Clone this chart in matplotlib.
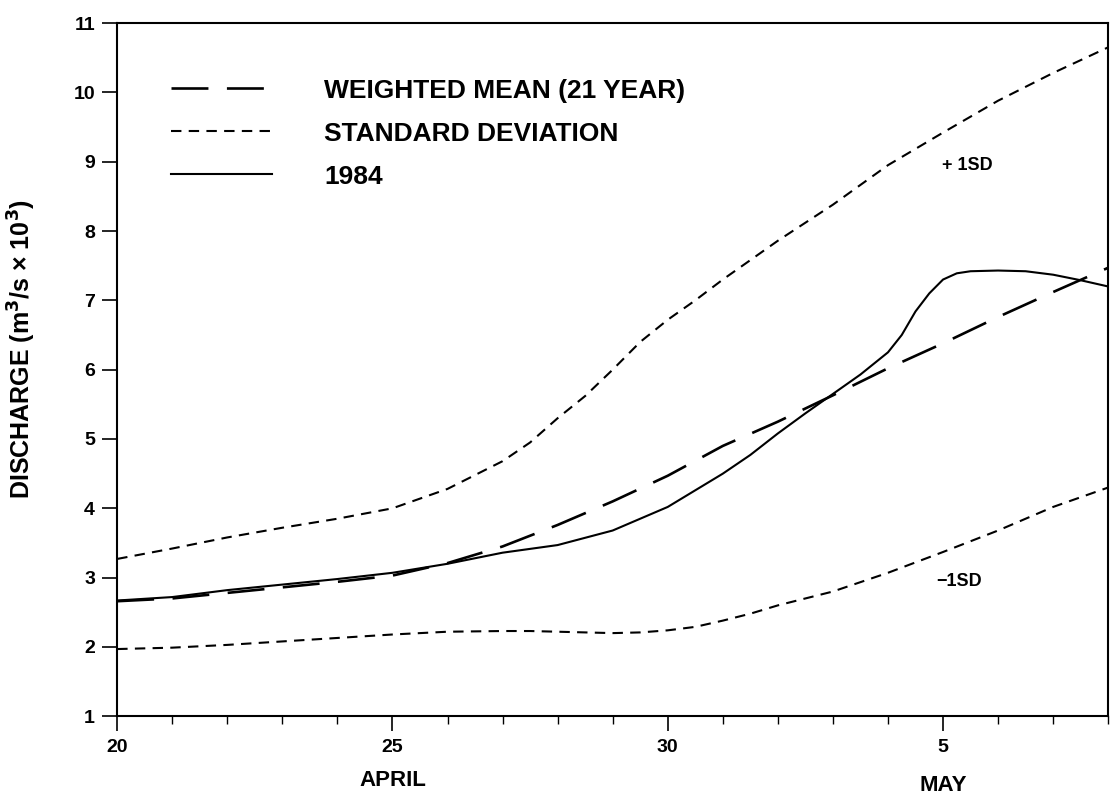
import matplotlib
matplotlib.use("Agg")
import matplotlib.pyplot as plt

plt.rcParams["font.family"] = ["Liberation Sans", "DejaVu Sans"]
plt.rcParams["font.weight"] = "bold"
plt.rcParams["axes.labelweight"] = "bold"
plt.rcParams["mathtext.default"] = "bf"

# days after 20 April; discharge in m3/s x 10^3
mean_days = list(range(19))
mean_q = [2.66, 2.70, 2.78, 2.86, 2.94, 3.03, 3.21, 3.45, 3.76, 4.10,
          4.47, 4.90, 5.25, 5.63, 6.02, 6.38, 6.76, 7.12, 7.47]

sd_days = [0, 1, 2, 3, 4, 5, 6, 7, 7.5, 8, 8.5, 9, 9.5, 10, 10.5, 11, 11.5,
           12, 13, 14, 15, 16, 17, 18]
sd_upper = [3.27, 3.42, 3.58, 3.72, 3.85, 4.00, 4.28, 4.68, 4.95, 5.30,
            5.62, 6.00, 6.40, 6.72, 7.00, 7.30, 7.58, 7.86, 8.38, 8.95,
            9.42, 9.88, 10.28, 10.65]
sd_lower = [1.97, 1.99, 2.03, 2.08, 2.13, 2.18, 2.22, 2.23, 2.23, 2.22,
            2.21, 2.20, 2.21, 2.24, 2.29, 2.38, 2.48, 2.60, 2.80, 3.07,
            3.37, 3.68, 4.02, 4.30]

y84_days = [0, 1, 2, 3, 4, 5, 6, 7, 8, 9, 10, 11, 11.5, 12, 12.5, 13, 13.5,
            14, 14.25, 14.5, 14.75, 15, 15.25, 15.5, 16, 16.5, 17, 17.5, 18]
y84_q = [2.67, 2.72, 2.82, 2.90, 2.98, 3.07, 3.20, 3.36, 3.47, 3.68, 4.02,
         4.50, 4.77, 5.08, 5.37, 5.65, 5.93, 6.25, 6.50, 6.84, 7.10, 7.30,
         7.39, 7.42, 7.43, 7.42, 7.37, 7.29, 7.20]

major_days = [0, 5, 10, 15]
major_labels = ["20", "25", "30", "5"]

fig = plt.figure(figsize=(11.16, 7.95), dpi=100)
ax = fig.add_axes([0.105, 0.099, 0.888, 0.872])

ax.plot(mean_days, mean_q, color="black", lw=1.9, dashes=(14, 7),
        label="WEIGHTED MEAN (21 YEAR)")
ax.plot(sd_days, sd_upper, color="black", lw=1.5, dashes=(5, 3.5),
        label="STANDARD DEVIATION")
ax.plot(sd_days, sd_lower, color="black", lw=1.5, dashes=(5, 3.5))
ax.plot(y84_days, y84_q, color="black", lw=1.5, label="1984")

ax.text(15.45, 8.95, "+ 1SD", fontsize=13, ha="center", va="center")
ax.text(15.3, 2.95, "\u22121SD", fontsize=13, ha="center", va="center")

ax.set_xlim(0, 18)
ax.set_ylim(1, 11)
ax.set_yticks(range(1, 12))
ax.set_xticks(major_days)
ax.set_xticklabels(major_labels)
ax.set_xticks(range(19), minor=True)
ax.tick_params(axis="both", which="major", direction="out", length=11,
               width=1.2, labelsize=14)
ax.tick_params(axis="x", which="minor", direction="out", length=6, width=1.0)
ax.tick_params(axis="x", pad=5)
ax.tick_params(axis="y", pad=5)
for s in ax.spines.values():
    s.set_linewidth(1.5)

ax.text(5, -0.093, "APRIL", transform=ax.get_xaxis_transform(),
        ha="center", va="center", fontsize=16)
ax.text(15, -0.1, "MAY", transform=ax.get_xaxis_transform(),
        ha="center", va="center", fontsize=16)

ax.set_ylabel("DISCHARGE (m$^3$/s \u00d7 10$^3$)", fontsize=18)
ax.yaxis.set_label_coords(-0.08, 0.53)

ax.legend(loc="upper left", bbox_to_anchor=(0.044, 0.935), frameon=False,
          fontsize=19, handlelength=3.8, handletextpad=2.0,
          labelspacing=0.72, borderaxespad=0)

fig.savefig("out.png", dpi=100)
